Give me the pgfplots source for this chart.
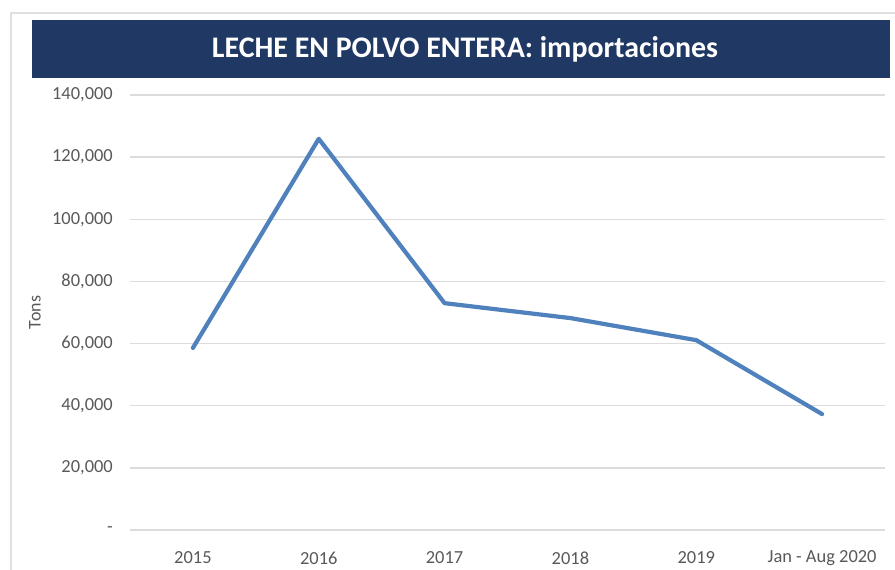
\documentclass[border=0pt]{standalone}
\usepackage{pgfplots}
\pgfplotsset{compat=1.18}
\usepackage{fontspec}
\setmainfont{Carlito}
\definecolor{navy}{HTML}{203864}
\definecolor{linec}{HTML}{4F81BD}
\definecolor{gridc}{HTML}{DCDCDC}
\definecolor{tickc}{HTML}{595959}
\begin{document}
\begin{tikzpicture}
\useasboundingbox (0bp,0bp) rectangle (895bp,570bp);
\fill[white] (0bp,0bp) rectangle (895bp,570bp);
\draw[black!12, line width=1.2bp] (11bp,0bp) -- (11bp,557bp) -- (895bp,557bp);
\fill[navy] (32bp,492bp) rectangle (890bp,550bp);
\node[text=white, font=\bfseries\fontsize{30}{34}\selectfont] at (465bp,521bp) {LECHE EN POLVO ENTERA: importaciones};
\begin{axis}[
  at={(130bp,40bp)}, anchor=south west,
  scale only axis, width=755bp, height=435bp,
  xmin=-0.5, xmax=5.5, ymin=0, ymax=140000,
  scaled y ticks=false,
  axis line style={draw=none},
  major tick length=0pt,
  ytick={0,20000,40000,60000,80000,100000,120000,140000},
  yticklabels={{-},{20,000},{40,000},{60,000},{80,000},{100,000},{120,000},{140,000}},
  xtick={0,1,2,3,4,5},
  xticklabels={2015,2016,2017,2018,2019,Jan - Aug 2020},
  ymajorgrids,
  grid style={gridc, line width=1.3bp},
  tick label style={text=tickc, font=\fontsize{18.5}{22}\selectfont},
  yticklabel style={anchor=east, inner sep=0pt, xshift=-17bp},
  xticklabel style={anchor=center, inner sep=0pt, yshift=-28bp},
  ylabel={Tons},
  ylabel style={at={(rel axis cs:0,0.5)}, anchor=center, yshift=95bp, text=tickc, font=\fontsize{18}{22}\selectfont},
  /pgf/number format/assume math mode=true,
  clip=false
]
\addplot[linec, line width=4.2bp, line join=round, line cap=round] coordinates {
  (0,58600) (1,125900) (2,73000) (3,68200) (4,61100) (5,37300)
};
\end{axis}
\end{tikzpicture}
\end{document}
